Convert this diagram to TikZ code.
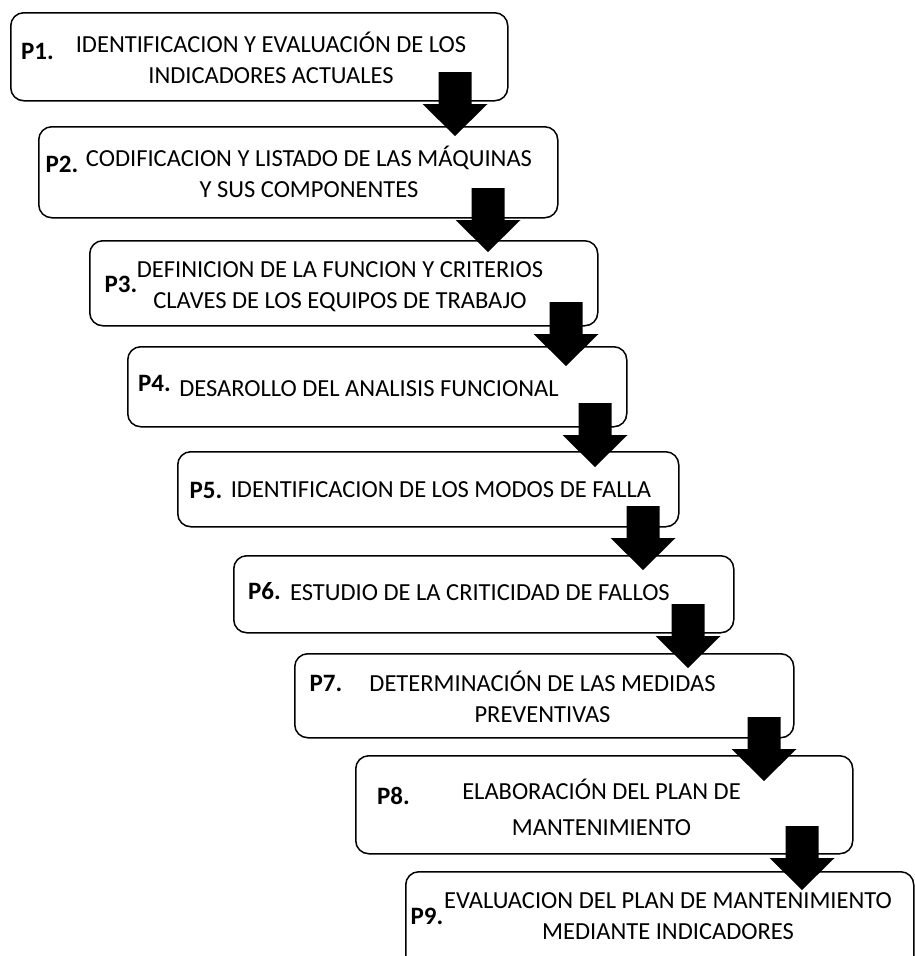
\documentclass[tikz,border=0pt]{standalone}
\usepackage{fontspec}
\setmainfont{Carlito}
\begin{document}
\begin{tikzpicture}[x=1pt,y=-1pt,
  stepbox/.style={draw=black, line width=1.5pt, rounded corners=13pt, fill=white, inner sep=0pt, anchor=north west},
  steptext/.style={font=\fontsize{24.5}{31}\selectfont, align=center, inner sep=0pt},
  steplabel/.style={font=\fontsize{25}{31}\selectfont\bfseries, inner sep=0pt},
  blockarrow/.pic={\fill[black] (-16.5,-64) -- (16.5,-64) -- (16.5,-32) -- (32.5,-32) -- (0,0) -- (-32.5,-32) -- (-16.5,-32) -- cycle;}
]
\useasboundingbox (0,0) rectangle (915,956);
\clip (0,0) rectangle (915,956);

% step boxes
\node[stepbox, minimum width=497pt, minimum height=88pt]  (b1) at (10,12)  {};
\node[stepbox, minimum width=519pt, minimum height=91pt]  (b2) at (38,126) {};
\node[stepbox, minimum width=508pt, minimum height=85pt]  (b3) at (89,240) {};
\node[stepbox, minimum width=499pt, minimum height=80pt]  (b4) at (127,346) {};
\node[stepbox, minimum width=501pt, minimum height=75pt]  (b5) at (177,451) {};
\node[stepbox, minimum width=500pt, minimum height=77pt]  (b6) at (233,555) {};
\node[stepbox, minimum width=499pt, minimum height=84pt]  (b7) at (294,653) {};
\node[stepbox, minimum width=497pt, minimum height=98pt]  (b8) at (355,755) {};
\node[stepbox, minimum width=508pt, minimum height=110pt] (b9) at (405,871) {};

% step labels
\node[steplabel] (p1) at (37.5,51)  {P1.};
\node[steplabel] (p2) at (62,164)   {P2.};
\node[steplabel] (p3) at (121,284)  {P3.};
\node[steplabel] (p4) at (154.5,383) {P4.};
\node[steplabel] (p5) at (206,490)  {P5.};
\node[steplabel] (p6) at (264.5,591) {P6.};
\node[steplabel] (p7) at (326,683)  {P7.};
\node[steplabel] (p8) at (393.5,796) {P8.};
\node[steplabel] (p9) at (427,916)  {P9.};

% step descriptions
\node[steptext] (t1) at (271,58)    {IDENTIFICACION Y EVALUACIÓN DE LOS\\INDICADORES ACTUALES};
\node[steptext] (t2) at (309,171.5) {CODIFICACION Y LISTADO DE LAS MÁQUINAS\\Y SUS COMPONENTES};
\node[steptext] (t3) at (340,287)   {DEFINICION DE LA FUNCION Y CRITERIOS\\CLAVES DE LOS EQUIPOS DE TRABAJO};
\node[steptext] (t4) at (369,389)   {DESAROLLO DEL ANALISIS FUNCIONAL};
\node[steptext] (t5) at (441,490)   {IDENTIFICACION DE LOS MODOS DE FALLA};
\node[steptext] (t6) at (480,593)   {ESTUDIO DE LA CRITICIDAD DE FALLOS};
\node[steptext] (t7) at (542.5,697) {DETERMINACIÓN DE LAS MEDIDAS\\PREVENTIVAS};
\node[steptext] (t8) at (601.5,807) {ELABORACIÓN DEL PLAN DE\\[5pt]MANTENIMIENTO};
\node[steptext] (t9) at (668,916)   {EVALUACION DEL PLAN DE MANTENIMIENTO\\MEDIANTE INDICADORES};

% block arrows, each placed by its tip
\coordinate (a1) at (455,136);
\coordinate (a2) at (488,252);
\coordinate (a3) at (566,366);
\coordinate (a4) at (595,467);
\coordinate (a5) at (643,570);
\coordinate (a6) at (688,668);
\coordinate (a7) at (764,781);
\coordinate (a8) at (802,890);
\foreach \a in {a1,a2,a3,a4,a5,a6,a7,a8} { \pic at (\a) {blockarrow}; }
\end{tikzpicture}
\end{document}
